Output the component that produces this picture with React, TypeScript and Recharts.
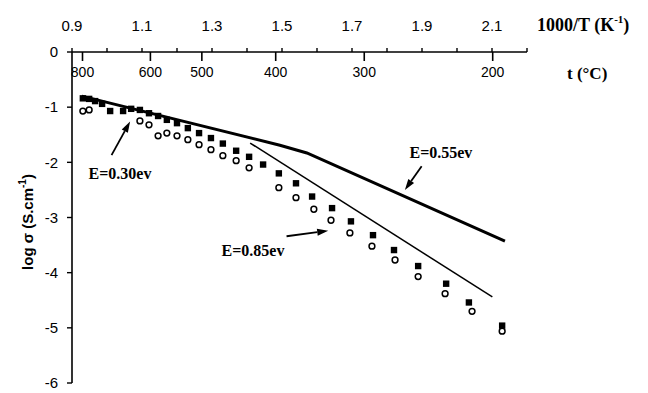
import { ComposedChart, Line, Scatter, XAxis, YAxis, ReferenceLine, ReferenceDot } from "recharts";

// 1000/T axis ticks (K^-1)
const invTMajor = [0.9, 1.1, 1.3, 1.5, 1.7, 1.9, 2.1];
const invTMinor = [1.0, 1.2, 1.4, 1.6, 1.8, 2.0, 2.2];
// temperature scale printed under the same axis line
const tempTickPos = [0.93, 1.124, 1.271, 1.482, 1.735, 2.102];
const tempLabels = ["800", "600", "500", "400", "300", "200"];
const logTicks = [0, -1, -2, -3, -4, -5, -6];

// filled squares
const sqInvT = [0.931, 0.949, 0.966, 0.986, 1.009, 1.046, 1.069, 1.094, 1.12, 1.146, 1.171, 1.2, 1.231, 1.263, 1.297, 1.331, 1.369, 1.406, 1.446, 1.491, 1.54, 1.586, 1.643, 1.697, 1.76, 1.82, 1.889, 1.969, 2.034, 2.129];
const sqLog = [-0.84, -0.85, -0.89, -0.94, -1.07, -1.07, -1.03, -1.05, -1.11, -1.16, -1.23, -1.29, -1.38, -1.47, -1.56, -1.66, -1.79, -1.9, -2.04, -2.2, -2.38, -2.62, -2.83, -3.07, -3.32, -3.59, -3.88, -4.2, -4.54, -4.96];

// open circles
const ciInvT = [0.931, 0.949, 1.094, 1.12, 1.146, 1.171, 1.2, 1.231, 1.263, 1.297, 1.331, 1.369, 1.406, 1.491, 1.54, 1.591, 1.64, 1.694, 1.757, 1.823, 1.889, 1.966, 2.043, 2.129];
const ciLog = [-1.07, -1.05, -1.25, -1.32, -1.52, -1.47, -1.52, -1.59, -1.68, -1.77, -1.88, -1.97, -2.1, -2.46, -2.64, -2.85, -3.05, -3.28, -3.52, -3.77, -4.07, -4.38, -4.7, -5.06];

// fitted lines: E=0.30 eV -> E=0.55 eV (thick), E=0.85 eV (thin)
const fitAInvT = [0.928, 1.494, 1.571, 2.137];
const fitALog = [-0.8, -1.69, -1.83, -3.43];
const fitBInvT = [1.409, 2.101];
const fitBLog = [-1.65, -4.44];

const annotations = [
  { text: "E=0.30ev", v: 1.037, log: -2.2, tail: [1.013, -1.87], tip: [1.066, -1.26] },
  { text: "E=0.55ev", v: 1.954, log: -1.83, tail: [1.899, -2.07], tip: [1.851, -2.5] },
  { text: "E=0.85ev", v: 1.417, log: -3.59, tail: [1.513, -3.34], tip: [1.632, -3.24] },
];

const zip = (xs: number[], ys: number[]) => xs.map((v, i) => ({ v, log: ys[i] }));
const squares = zip(sqInvT, sqLog);
const circles = zip(ciInvT, ciLog);
const fitA = zip(fitAInvT, fitALog);
const fitB = zip(fitBInvT, fitBLog);

const sans = "'Liberation Sans', Arial, sans-serif";
const serif = "'Liberation Serif', 'Times New Roman', serif";

function TopTick(props: any) {
  const { x, y, payload } = props;
  const value = payload.value;
  const ti = tempTickPos.indexOf(value);
  if (ti >= 0) {
    return (
      <g>
        <line x1={x} y1={y} x2={x} y2={y + 9} stroke="#000" strokeWidth={1.6} />
        <text x={x} y={y + 20} textAnchor="middle" dominantBaseline="central" fontFamily={sans} fontSize={14} fill="#000">
          {tempLabels[ti]}
        </text>
      </g>
    );
  }
  const major = invTMajor.includes(value);
  return (
    <g>
      <line x1={x} y1={y} x2={x} y2={y - 4} stroke="#000" strokeWidth={1.4} />
      {major && (
        <text x={x} y={y - 27} textAnchor="middle" dominantBaseline="central" fontFamily={sans} fontSize={15} fill="#000">
          {value.toFixed(1)}
        </text>
      )}
    </g>
  );
}

function TopAxisTitle(props: any) {
  const { viewBox } = props;
  const x = viewBox.x + viewBox.width + 10;
  const y = viewBox.y + viewBox.height;
  return (
    <g fontFamily={serif} fontWeight="bold" fill="#000">
      <text x={x} y={y - 27} dominantBaseline="central" fontSize={18}>
        1000/T (K<tspan dy={-6} fontSize={11}>-1</tspan><tspan dy={6}>)</tspan>
      </text>
      <text x={x + 30} y={y + 21} dominantBaseline="central" fontSize={17}>
        t (°C)
      </text>
    </g>
  );
}

function YTitle() {
  return (
    <text x={27} y={222} transform="rotate(-90 27 222)" textAnchor="middle" dominantBaseline="central" fontFamily={sans} fontWeight="bold" fontSize={15} fill="#000">
      log σ (S.cm<tspan dy={-5} fontSize={10}>-1</tspan><tspan dy={5}>)</tspan>
    </text>
  );
}

function Square(props: any) {
  const { cx, cy } = props;
  return <rect x={cx - 3.2} y={cy - 3.2} width={6.4} height={6.4} fill="#000" />;
}

function OpenCircle(props: any) {
  const { cx, cy } = props;
  return <circle cx={cx} cy={cy} r={2.9} fill="#fff" stroke="#000" strokeWidth={1.5} />;
}

function Arrow(props: any) {
  const { x1, y1, x2, y2 } = props;
  const ang = Math.atan2(y2 - y1, x2 - x1);
  const len = 11;
  const half = 3.5;
  const bx = x2 - len * Math.cos(ang);
  const by = y2 - len * Math.sin(ang);
  const px = -Math.sin(ang) * half;
  const py = Math.cos(ang) * half;
  return (
    <g>
      <line x1={x1} y1={y1} x2={bx} y2={by} stroke="#000" strokeWidth={1.8} />
      <polygon points={`${x2},${y2} ${bx + px},${by + py} ${bx - px},${by - py}`} fill="#000" />
    </g>
  );
}

function NoteText(text: string) {
  return (props: any) => (
    <text x={props.cx} y={props.cy} textAnchor="middle" dominantBaseline="central" fontFamily={serif} fontWeight="bold" fontSize={16} fill="#000">
      {text}
    </text>
  );
}

export default function App() {
  const topTicks = [...invTMajor, ...invTMinor, ...tempTickPos].sort((a, b) => a - b);
  return (
    <div style={{ position: "absolute", left: 0, top: 0, width: 648, height: 393, background: "#fff" }}>
      <ComposedChart width={648} height={393} margin={{ top: 12, right: 121, bottom: 10, left: 12 }}>
        <XAxis
          xAxisId="k"
          orientation="top"
          type="number"
          dataKey="v"
          domain={[0.9, 2.2]}
          ticks={topTicks}
          interval={0}
          height={40}
          tickSize={0}
          tickMargin={0}
          tickLine={false}
          tick={<TopTick />}
          axisLine={{ stroke: "#000", strokeWidth: 1.6 }}
          label={<TopAxisTitle />}
        />
        <YAxis
          type="number"
          dataKey="log"
          domain={[-6, 0]}
          ticks={logTicks}
          interval={0}
          width={60}
          tickSize={5}
          tickMargin={9}
          axisLine={{ stroke: "#000", strokeWidth: 1.6 }}
          tickLine={{ stroke: "#000", strokeWidth: 1.4 }}
          tick={{ fill: "#000", fontSize: 15, fontFamily: sans }}
          tickFormatter={(v) => String(v)}
        />
        <Line xAxisId="k" data={fitA} dataKey="log" type="linear" stroke="#000" strokeWidth={3} dot={false} isAnimationActive={false} />
        <Line xAxisId="k" data={fitB} dataKey="log" type="linear" stroke="#000" strokeWidth={1.5} dot={false} isAnimationActive={false} />
        <Scatter xAxisId="k" data={squares} dataKey="log" shape={<Square />} isAnimationActive={false} />
        <Scatter xAxisId="k" data={circles} dataKey="log" shape={<OpenCircle />} isAnimationActive={false} />
        {annotations.map((a) => (
          <ReferenceLine
            key={a.text + "-arrow"}
            xAxisId="k"
            segment={[{ x: a.tail[0], y: a.tail[1] }, { x: a.tip[0], y: a.tip[1] }]}
            shape={<Arrow />}
          />
        ))}
        {annotations.map((a) => (
          <ReferenceDot key={a.text} xAxisId="k" x={a.v} y={a.log} r={0} shape={NoteText(a.text)} />
        ))}
      </ComposedChart>
      <svg width={648} height={393} style={{ position: "absolute", left: 0, top: 0, pointerEvents: "none" }}>
        <YTitle />
      </svg>
    </div>
  );
}
